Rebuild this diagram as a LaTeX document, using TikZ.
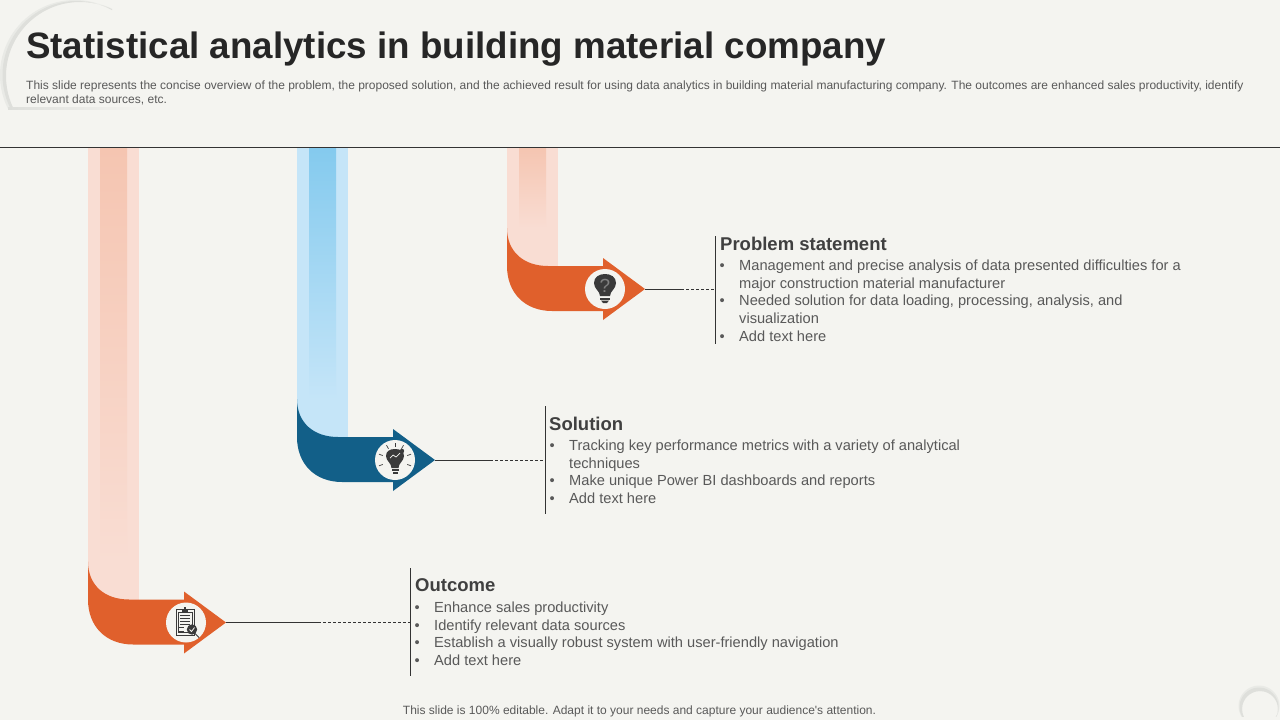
\documentclass[tikz,border=0pt]{standalone}
\usepackage{fontspec}
\setmainfont{Liberation Sans}
\usetikzlibrary{positioning}

\definecolor{pagebg}{HTML}{F4F4F0}
\definecolor{ringgray}{HTML}{DEDFDB}
\definecolor{ringpale}{HTML}{E9EAE6}
\definecolor{titleink}{HTML}{262626}
\definecolor{headink}{HTML}{404040}
\definecolor{bodyink}{HTML}{595959}
\definecolor{lineink}{HTML}{333333}
\definecolor{iconink}{HTML}{3A3A3A}
\definecolor{rust}{HTML}{E0602C}
\definecolor{rustpale}{HTML}{F9DDD3}
\definecolor{rustmid}{HTML}{F5C5B1}
\definecolor{navy}{HTML}{125F88}
\definecolor{skypale}{HTML}{C5E5F8}
\definecolor{skymid}{HTML}{84CAEE}

\newcommand{\bul}{\makebox[20pt][l]{\hspace{0.3pt}\textbullet}}
\newcommand{\cont}{\hspace*{20pt}}

\tikzset{
  title/.style={anchor=north west, inner sep=0pt, text=titleink, font=\fontsize{36.75}{44}\selectfont\bfseries},
  small/.style={anchor=north west, inner sep=0pt, text=bodyink, align=left, font=\fontsize{12}{14.4}\selectfont},
  head/.style={anchor=north west, inner sep=0pt, text=headink, font=\fontsize{18.5}{22}\selectfont\bfseries},
  body/.style={anchor=north west, inner sep=0pt, text=bodyink, align=left, font=\fontsize{14.64}{17.75}\selectfont},
  iconspot/.style={circle, fill=pagebg, minimum size=40pt, inner sep=0pt},
  solidlink/.style={draw=lineink, line width=0.9pt},
  dashlink/.style={draw=lineink, line width=1pt, dash pattern=on 3pt off 2pt},
  divider/.style={draw=lineink, line width=0.9pt},
  iconline/.style={draw=iconink, line width=0.8pt},
  bulbquery/.pic={
    \fill[iconink] (-5,7) .. controls (-5,2) and (-11,0) .. (-11,-6)
      .. controls (-11,-12) and (-6,-15) .. (0,-15)
      .. controls (6,-15) and (11,-12) .. (11,-6)
      .. controls (11,0) and (5,2) .. (5,7) -- cycle;
    \fill[iconink] (-5,8.5) rectangle (5,10.5);
    \fill[iconink] (-4,11.5) -- (4,11.5) -- (2,14) -- (-2,14) -- cycle;
    \node[inner sep=0pt, text=gray, font=\fontsize{19}{19}\selectfont] (queryA) at (0,-3) {?};
  },
  bulbrays/.pic={
    \fill[iconink] (-3.5,8) .. controls (-3.5,3) and (-9,1) .. (-9,-4)
      .. controls (-9,-9) and (-5,-11) .. (0,-11)
      .. controls (5,-11) and (9,-9) .. (9,-4)
      .. controls (9,1) and (3.5,3) .. (3.5,8) -- cycle;
    \fill[iconink] (-3.5,9) rectangle (3.5,10.5);
    \fill[iconink] (-2.5,11.5) rectangle (2.5,13.5);
    \draw[pagebg, line width=0.7pt] (-5,-2) -- (-2,-5) -- (1,-3) -- (5,-7);
    \foreach \ang in {-20,-60,-90,-120,-160,20,160}
      \draw[iconink, line width=0.7pt] (\ang:13) -- (\ang:17);
    \fill[iconink] (7,-9) circle (2.2);
  },
  clipcheck/.pic={
    \draw[iconline, fill=pagebg] (-10,-13) rectangle (8,13);
    \draw[iconline, fill=pagebg] (-8,-10) rectangle (6,10);
    \fill[iconink] (-4,-14) rectangle (2,-11);
    \fill[iconink] (-2,-16) rectangle (0,-14);
    \foreach \yy in {-7,-4,-1,2}
      \draw[iconink, line width=0.6pt] (-6,\yy) -- (4,\yy);
    \draw[iconink, line width=0.6pt] (-7,5) -- (-2,5) (-7,9) -- (-2,9);
    \draw[iconink, line width=0.9pt] (8,10) -- (13,15);
    \fill[iconink] (6,7) circle (5.2);
    \draw[pagebg, line width=0.8pt] (3.5,7) -- (5.5,9) -- (8.5,5);
  },
}

% bent arrow, (#2,#3) is its tip, #1 names it
\newcommand{\bentarrow}[7]{
  \begin{scope}[shift={(#2,#3)}]
    \fill[#5] (-138,148-#3) rectangle (-87,-22);
    \shade[top color=#6, bottom color=#5] (-126,148-#3) rectangle (-99,-61);
    \fill[#4] (-138,-61) .. controls (-138,-37) and (-121,-23) .. (-97,-23)
      -- (-42,-23) -- (-42,-31) -- (0,0) -- (-42,31) -- (-42,22) -- (-93,22)
      .. controls (-120,22) and (-138,4) .. (-138,-23) -- cycle;
    \coordinate (tip#1) at (0,0.3);
    \node[iconspot] (spot#1) at (-40,0) {};
    \pic at (spot#1) {#7};
  \end{scope}
}

\begin{document}
\begin{tikzpicture}[x=1pt,y=-1pt]
  \useasboundingbox (0,0) rectangle (1280,720);
  \fill[pagebg] (0,0) rectangle (1280,720);

  % corner rings
  \begin{scope}
    \clip (0,0) rectangle (112,108);
    \fill[ringpale, even odd rule] (75,75) circle (75) (80,76) circle (74.5);
    \fill[ringgray, even odd rule] (76.5,75) circle (74) (80,76) circle (74);
  \end{scope}
  \shade[left color=ringgray, right color=pagebg] (8,107) rectangle (145,109);
  \begin{scope}
    \clip (1230,680) rectangle (1280,716);
    \fill[ringpale, even odd rule] (1259,706) circle (20.5) (1260,709) circle (18);
    \fill[ringgray, even odd rule] (1259,707) circle (19.5) (1260,709) circle (18);
  \end{scope}

  \node[title] (title) at (26,31.5) {Statistical analytics in building material company};
  \node[small] (intro) at (26,80.5) {This slide represents the concise overview of the problem, the proposed solution, and the achieved result for using data analytics in building material manufacturing company. The outcomes are enhanced sales productivity, identify\\relevant data sources, etc.};
  \coordinate (ruleL) at (0,147.5);
  \coordinate (ruleR) at (1280,147.5);
  \draw[lineink, line width=1pt] (ruleL) -- (ruleR);

  \bentarrow{Prob}{645}{289}{rust}{rustpale}{rustmid}{bulbquery}
  \bentarrow{Sol}{435}{460}{navy}{skypale}{skymid}{bulbrays}
  \bentarrow{Out}{226}{622.5}{rust}{rustpale}{rustmid}{clipcheck}

  % problem statement
  \coordinate (topProb) at (715.7,236);
  \coordinate (botProb) at (715.7,344);
  \coordinate (midProb) at (681,289.3);
  \coordinate (endProb) at (715.7,289.3);
  \draw[divider] (topProb) -- (botProb);
  \path[solidlink] (tipProb) -- (midProb);
  \path[dashlink] (midProb) -- (endProb);
  \node[head] (headProb) at (720,237) {Problem statement};
  \node[body] (textProb) at (719,259.5) {\bul Management and precise analysis of data presented difficulties for a\\
    \cont major construction material manufacturer\\
    \bul Needed solution for data loading, processing, analysis, and\\
    \cont visualization\\
    \bul Add text here};

  % solution
  \coordinate (topSol) at (545.5,406);
  \coordinate (botSol) at (545.5,514);
  \coordinate (midSol) at (490,460.3);
  \coordinate (endSol) at (545.5,460.3);
  \draw[divider] (topSol) -- (botSol);
  \path[solidlink] (tipSol) -- (midSol);
  \path[dashlink] (midSol) -- (endSol);
  \node[head] (headSol) at (549,417) {Solution};
  \node[body] (textSol) at (549,439.5) {\bul Tracking key performance metrics with a variety of analytical\\
    \cont techniques\\
    \bul Make unique Power BI dashboards and reports\\
    \bul Add text here};

  % outcome
  \coordinate (topOut) at (410.5,568);
  \coordinate (botOut) at (410.5,676);
  \coordinate (midOut) at (318,622.8);
  \coordinate (endOut) at (410.5,622.8);
  \draw[divider] (topOut) -- (botOut);
  \path[solidlink] (tipOut) -- (midOut);
  \path[dashlink] (midOut) -- (endOut);
  \node[head] (headOut) at (415,578) {Outcome};
  \node[body] (textOut) at (414,601.5) {\bul Enhance sales productivity\\
    \bul Identify relevant data sources\\
    \bul Establish a visually robust system with user-friendly navigation\\
    \bul Add text here};

  \node[small, anchor=north] (foot) at (639.5,706) {This slide is 100\% editable. Adapt it to your needs and capture your audience\textquotesingle s attention.};
\end{tikzpicture}
\end{document}
